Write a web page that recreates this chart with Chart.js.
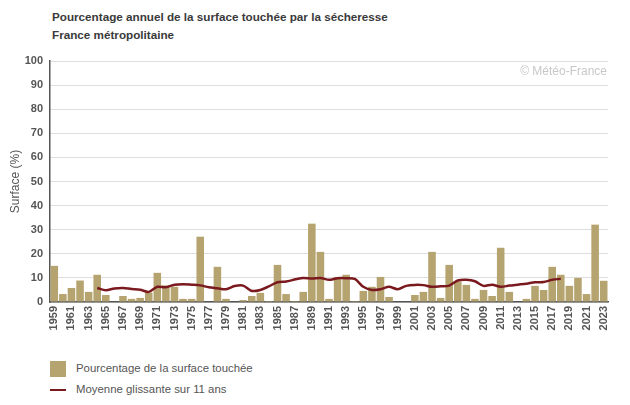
<!DOCTYPE html>
<html>
<head>
<meta charset="utf-8">
<script src="https://cdn.jsdelivr.net/npm/chart.js@4.4.1/dist/chart.umd.min.js"></script>
<style>
  body { margin: 0; background: #fff; font-family: "Liberation Sans", Arial, sans-serif; }
  #wrap { position: relative; width: 630px; height: 405px; }
  .title { position: absolute; left: 52px; font-size: 11.7px; font-weight: bold; color: #3a3a3a; }
  #mark { position: absolute; right: 23px; top: 64px; font-size: 12px; color: #c8c8c8; }
  .leg { position: absolute; left: 50px; font-size: 11.4px; color: #555; }
  .leg span.box { display: inline-block; vertical-align: middle; margin-right: 10px; }
</style>
</head>
<body>
<div id="wrap">
  <div class="title" style="top:10px">Pourcentage annuel de la surface touchée par la sécheresse</div>
  <div class="title" style="top:28px">France métropolitaine</div>
  <canvas id="myChart" width="630" height="352" style="position:absolute;left:0;top:0"></canvas>
  <div id="mark">© Météo-France</div>
  <div class="leg" style="top:361px"><span class="box" style="width:16px;height:16px;background:#b5a46f"></span>Pourcentage de la surface touchée</div>
  <div class="leg" style="top:383px"><span class="box" style="width:16px;height:2px;background:#7a1a1f"></span>Moyenne glissante sur 11 ans</div>
</div>
<script>
var years = [];
for (var y = 1959; y <= 2023; y++) years.push(String(y));

var surface = [15.0, 3.3, 5.8, 8.9, 4.2, 11.3, 2.9, 0, 2.5, 1.3,
  1.7, 3.9, 12.1, 6.9, 6.3, 1.3, 1.3, 27.1, 0, 14.6,
  1.3, 0, 0.8, 2.5, 3.8, 0.4, 15.4, 3.3, 0.4, 4.2,
  32.5, 20.8, 1.3, 10.4, 11.3, 0.4, 4.6, 6.3, 10.4, 2.1,
  0, 0, 2.9, 4.2, 20.8, 1.7, 15.4, 8.5, 7.1, 1.3,
  5.0, 2.5, 22.5, 4.2, 0, 1.3, 6.7, 5.0, 14.6, 11.3,
  6.7, 10.0, 3.3, 32.1, 8.8];

var moyenne = [null, null, null, null, null, 5.8, 4.9, 5.6, 5.8, 5.4,
  5.1, 4.2, 6.3, 6.1, 7.2, 7.4, 7.2, 6.9, 6.1, 5.7,
  5.3, 6.6, 6.8, 4.6, 5.0, 6.5, 8.2, 8.5, 9.3, 10.0,
  9.7, 10.0, 9.2, 9.9, 9.9, 9.6, 6.3, 5.0, 5.3, 6.3,
  5.3, 6.7, 7.1, 7.0, 6.3, 6.5, 6.8, 8.9, 9.2, 8.6,
  6.7, 7.2, 6.3, 6.8, 7.2, 7.6, 8.2, 8.3, 9.2, 9.6,
  null, null, null, null, null];

var yTicks = [0, 10, 20, 30, 40, 50, 60, 70, 80, 90, 100];

var tickFont = { family: "Liberation Sans", size: 11, weight: "bold" };

new Chart("myChart", {
  type: "bar",
  data: {
    labels: years,
    datasets: [{
      type: "line",
      data: moyenne,
      borderColor: "#7a1a1f",
      borderWidth: 2.5,
      pointRadius: 0,
      tension: 0.3,
      spanGaps: false,
      order: 0
    }, {
      data: surface,
      backgroundColor: "#b5a46f",
      barPercentage: 0.88,
      categoryPercentage: 1,
      order: 1
    }]
  },
  options: {
    responsive: false,
    animation: false,
    layout: { padding: { top: 61, right: 22, left: 0, bottom: 0 } },
    plugins: { legend: { display: false }, tooltip: { enabled: false } },
    scales: {
      x: {
        grid: { display: false },
        border: { color: "#555", width: 1.5 },
        ticks: {
          autoSkip: false, minRotation: 90, maxRotation: 90,
          color: "#555", font: tickFont, padding: -4,
          callback: function (v, i) { return i % 2 == 0 ? years[i] : ""; }
        },
        afterFit: function (s) { s.height = 50; }
      },
      y: {
        min: 0, max: 100,
        afterBuildTicks: function (s) { s.ticks = yTicks.map(function (v) { return { value: v }; }); },
        grid: { color: "#dddddd", drawTicks: false },
        border: { color: "#555", width: 1.5 },
        ticks: { color: "#555", font: tickFont, padding: 7 },
        title: { display: true, text: "Surface (%)", color: "#555", font: { family: "Liberation Sans", size: 12 }, padding: { top: 8, bottom: 0 } },
        afterFit: function (s) { s.width = 50; }
      }
    }
  }
});
</script>
</body>
</html>
